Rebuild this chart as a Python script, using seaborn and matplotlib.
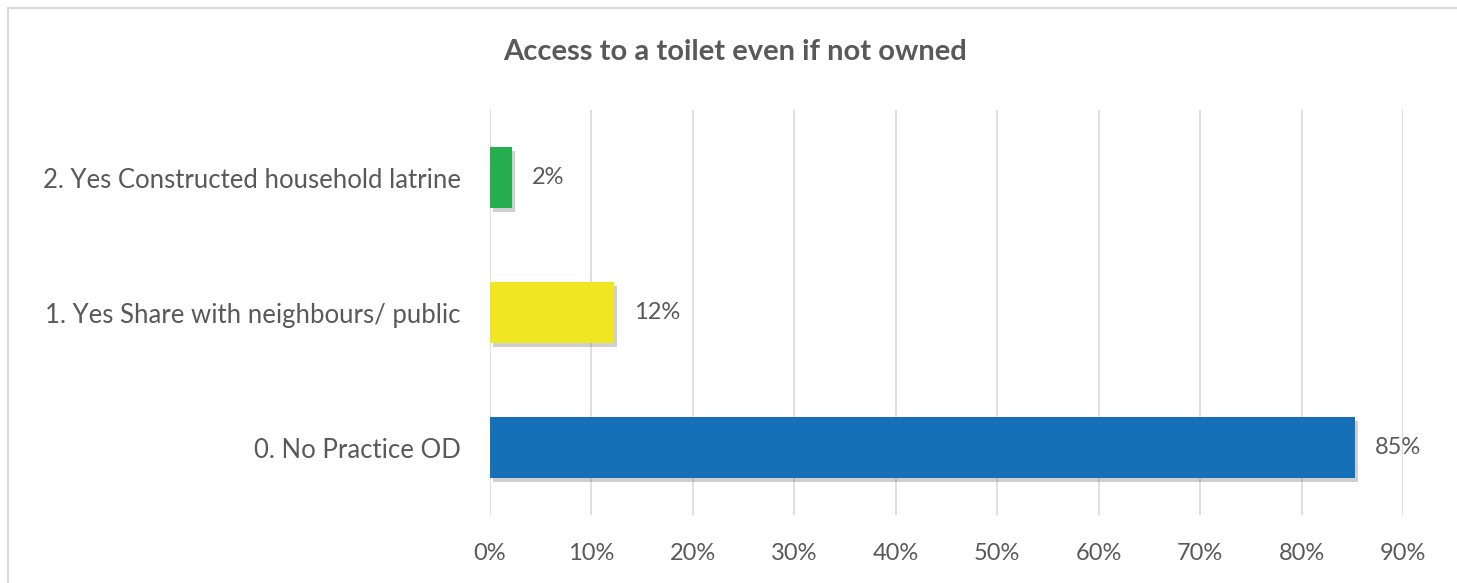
import matplotlib
matplotlib.use("Agg")
import matplotlib.pyplot as plt
import matplotlib.patheffects as pe
from matplotlib.patches import Rectangle
import seaborn as sns
import pandas as pd

categories = ["2. Yes Constructed household latrine",
              "1. Yes Share with neighbours/ public",
              "0. No Practice OD"]
values = [2.2, 12.2, 85.3]
labels = ["2%", "12%", "85%"]
colors = ["#25AE50", "#F0E621", "#1570B7"]
xticks = [0, 10, 20, 30, 40, 50, 60, 70, 80, 90]
title = "Access to a toilet even if not owned"

sns.set_theme(style="white")
plt.rcParams["font.family"] = ["Lato", "DejaVu Sans"]

df = pd.DataFrame({"cat": categories, "val": values})

fig = plt.figure(figsize=(14.57, 5.83), dpi=100)
ax = fig.add_axes([490/1457, 1-515/583, (1403-490)/1457, (515-110)/583])

sns.barplot(data=df, x="val", y="cat", hue="cat", palette=colors, order=categories,
            hue_order=categories, width=0.45, legend=False, ax=ax, saturation=1, zorder=3)

for p in ax.patches:
    p.set_path_effects([pe.SimplePatchShadow(offset=(2, -3), shadow_rgbFace="#777777", alpha=0.35), pe.Normal()])
    p.set_linewidth(0)

ax.set_xlim(0, 90)
ax.set_ylim(2.5, -0.5)
ax.set_xticks(xticks)
ax.set_xticklabels([f"{t}%" for t in xticks])
ax.grid(axis="x", color="#d9d9d9", linewidth=1.2, zorder=0)
ax.grid(axis="y", visible=False)
for s in ax.spines.values():
    s.set_visible(False)
ax.set_xlabel("")
ax.set_ylabel("")
ax.tick_params(axis="x", length=0, pad=20, labelsize=17, labelcolor="#595959")
ax.tick_params(axis="y", length=0, pad=21, labelsize=18.5, labelcolor="#595959")

for i, (v, lab) in enumerate(zip(values, labels)):
    ax.annotate(lab, xy=(v, i), xytext=(20, 0), textcoords="offset pixels",
                va="center", ha="left", fontsize=17, color="#595959")

fig.text(735/1457, 1-52/583, title, ha="center", va="center", fontsize=21,
         fontweight="bold", color="#595959")

fig.patches.append(Rectangle((8/1457, -0.1), 1.2, 1.1 - 8/583, transform=fig.transFigure,
                             fill=False, edgecolor="#d9d9d9", linewidth=1.5))

fig.savefig("out.png", dpi=100, facecolor="white")
